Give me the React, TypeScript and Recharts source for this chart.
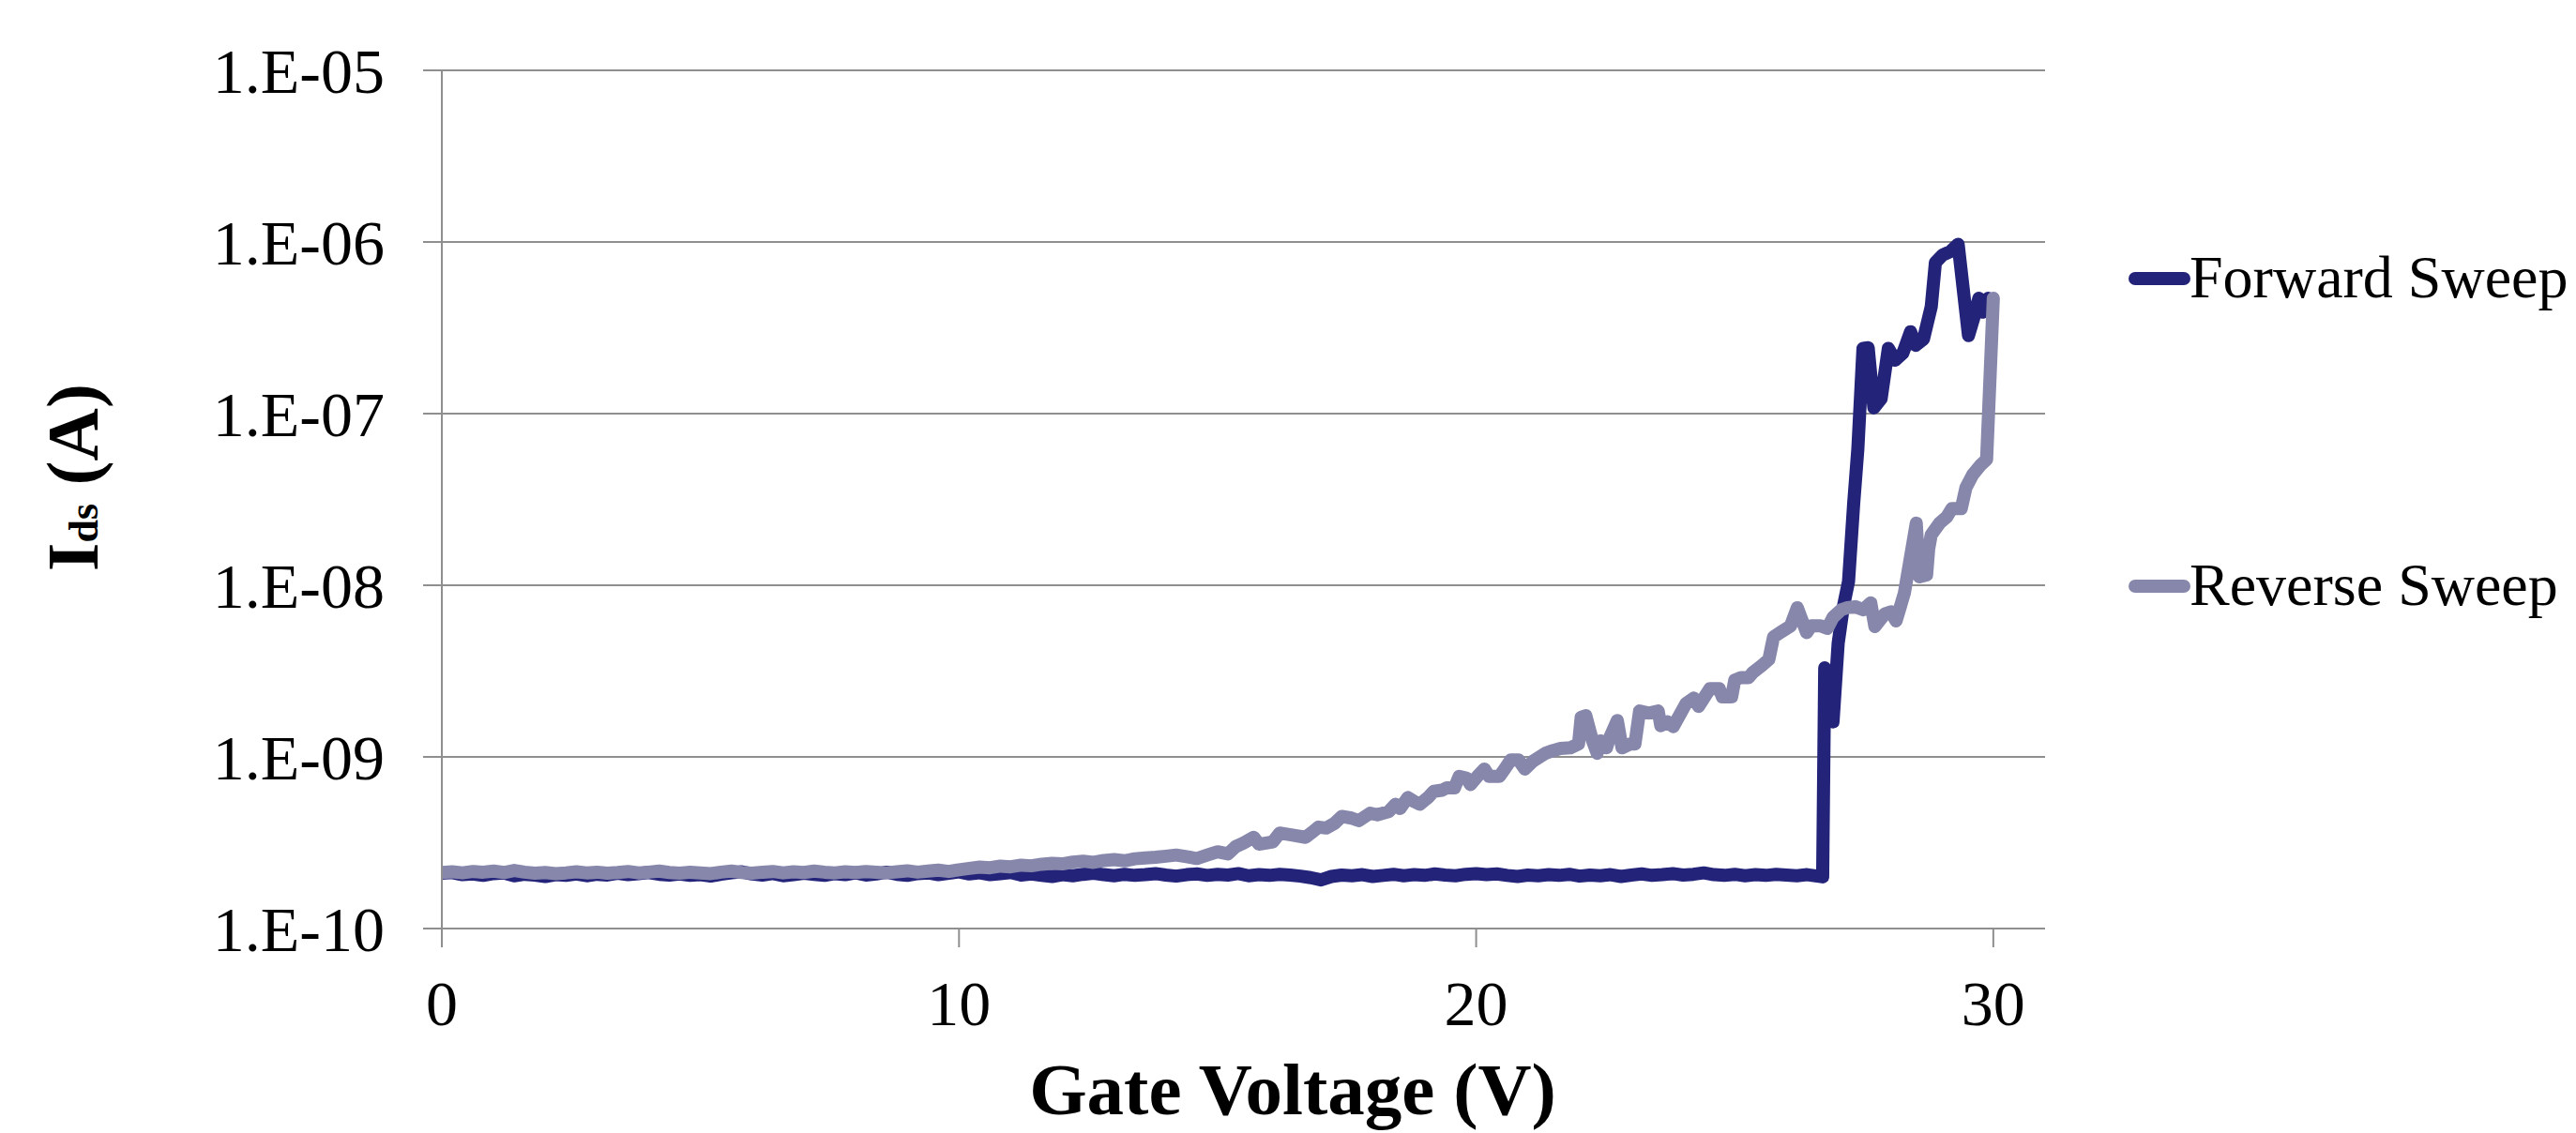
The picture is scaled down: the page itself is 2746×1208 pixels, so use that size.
import { LineChart, Line, XAxis, YAxis, CartesianGrid, Legend } from "recharts";

const W = 2746;
const H = 1208;
const FONT = '"Liberation Serif", "Times New Roman", Times, serif';
const FORWARD = "#23237a";
const REVERSE = "#8787ac";
const AXIS = "#8f8f8f";

const xTicks = [0, 10, 20, 30];
const yTicks = [1e-10, 1e-9, 1e-8, 1e-7, 1e-6, 1e-5];
const yTickLabels = ["1.E-10", "1.E-09", "1.E-08", "1.E-07", "1.E-06", "1.E-05"];

// forward sweep, gate voltage (V) and drain current (nA)
const forwardV = [
  0, 0.2, 0.4, 0.6, 0.8, 1, 1.2, 1.4, 1.6, 1.8,
  2, 2.2, 2.4, 2.6, 2.8, 3, 3.2, 3.4, 3.6, 3.8,
  4, 4.2, 4.4, 4.6, 4.8, 5, 5.2, 5.4, 5.6, 5.8,
  6, 6.2, 6.4, 6.6, 6.8, 7, 7.2, 7.4, 7.6, 7.8,
  8, 8.2, 8.4, 8.6, 8.8, 9, 9.2, 9.4, 9.6, 9.8,
  10, 10.2, 10.4, 10.6, 10.8, 11, 11.2, 11.4, 11.6, 11.8,
  12, 12.2, 12.4, 12.6, 12.8, 13, 13.2, 13.4, 13.6, 13.8,
  14, 14.2, 14.4, 14.6, 14.8, 15, 15.2, 15.4, 15.6, 15.8,
  16, 16.2, 16.4, 16.6, 16.8, 17, 17.2, 17.4, 17.6, 17.8,
  18, 18.2, 18.4, 18.6, 18.8, 19, 19.2, 19.4, 19.6, 19.8,
  20, 20.2, 20.4, 20.6, 20.8, 21, 21.2, 21.4, 21.6, 21.8,
  22, 22.2, 22.4, 22.6, 22.8, 23, 23.2, 23.4, 23.6, 23.8,
  24, 24.2, 24.4, 24.6, 24.8, 25, 25.2, 25.4, 25.6, 25.8,
  26, 26.2, 26.4, 26.6,
  26.7, 26.74, 26.9, 27.0, 27.1, 27.2, 27.3, 27.38, 27.48, 27.58,
  27.69, 27.83, 27.97, 28.1, 28.25, 28.4, 28.5, 28.65, 28.8, 28.88,
  29.02, 29.17, 29.32, 29.52, 29.62, 29.72, 29.8, 29.9,
];
const forwardNA = [
  0.210, 0.212, 0.206, 0.208, 0.204, 0.209, 0.211, 0.203, 0.207, 0.205,
  0.201, 0.206, 0.204, 0.208, 0.203, 0.207, 0.205, 0.210, 0.206, 0.209,
  0.212, 0.207, 0.205, 0.208, 0.204, 0.206, 0.202, 0.207, 0.211, 0.214,
  0.208, 0.205, 0.209, 0.203, 0.206, 0.210, 0.207, 0.204, 0.209, 0.206,
  0.211, 0.205, 0.208, 0.213, 0.207, 0.204, 0.209, 0.211, 0.206, 0.210,
  0.214, 0.208, 0.211, 0.206, 0.209, 0.212, 0.205, 0.208, 0.204, 0.201,
  0.206, 0.203, 0.207, 0.210, 0.206, 0.203, 0.207, 0.204, 0.206, 0.209,
  0.205, 0.202, 0.206, 0.208, 0.204, 0.207, 0.205, 0.209, 0.203, 0.206,
  0.204, 0.207, 0.205, 0.202, 0.198, 0.192, 0.201, 0.205, 0.203, 0.206,
  0.201, 0.204, 0.207, 0.203, 0.206, 0.204, 0.208, 0.205, 0.203, 0.207,
  0.209, 0.206, 0.208, 0.204, 0.201, 0.205, 0.203, 0.206, 0.204, 0.207,
  0.202, 0.205, 0.203, 0.206, 0.201, 0.205, 0.208, 0.204, 0.206, 0.209,
  0.205, 0.207, 0.211, 0.206, 0.204, 0.207, 0.203, 0.206, 0.204, 0.207,
  0.205, 0.203, 0.206, 0.202,
  0.200, 3.3, 1.6, 4.6, 7.5, 10.5, 30, 62, 240, 242,
  108, 122, 240, 205, 225, 300, 250, 272, 420, 760,
  840, 880, 970, 285, 360, 470, 390, 470,
];

// reverse sweep, gate voltage (V) and drain current (nA)
const reverseV = [
  0, 0.2, 0.4, 0.6, 0.8, 1, 1.2, 1.4, 1.6, 1.8,
  2, 2.2, 2.4, 2.6, 2.8, 3, 3.2, 3.4, 3.6, 3.8,
  4, 4.2, 4.4, 4.6, 4.8, 5, 5.2, 5.4, 5.6, 5.8,
  6, 6.2, 6.4, 6.6, 6.8, 7, 7.2, 7.4, 7.6, 7.8,
  8, 8.2, 8.4, 8.6, 8.8, 9, 9.2, 9.4, 9.6, 9.8,
  10, 10.2, 10.4, 10.6, 10.8, 11, 11.2, 11.4, 11.6, 11.8,
  12, 12.2, 12.4, 12.6, 12.8, 13, 13.2, 13.4, 13.6, 13.8,
  14, 14.2, 14.4, 14.6, 14.8, 15,
  15.2, 15.35, 15.5, 15.7, 15.8, 16.07, 16.2, 16.45, 16.7, 16.86,
  16.95, 17.1, 17.26, 17.4, 17.59, 17.73, 17.95, 18.09, 18.31, 18.44,
  18.53, 18.68, 18.8, 18.91, 19.07, 19.18, 19.34, 19.43, 19.58, 19.67,
  19.82, 19.89, 20.04, 20.16, 20.25, 20.45, 20.55, 20.67, 20.82, 20.94,
  21.09, 21.34, 21.49, 21.63, 21.82, 21.98, 22.03, 22.12, 22.25, 22.34,
  22.4, 22.52, 22.58, 22.73, 22.82, 22.98, 23.07, 23.16, 23.34, 23.52,
  23.57, 23.7, 23.81, 24.06, 24.21, 24.3, 24.52, 24.7, 24.76, 24.94,
  25.0, 25.12, 25.27, 25.35, 25.52, 25.66, 25.75, 25.88, 26.08, 26.21,
  26.39, 26.48, 26.66, 26.79, 26.9, 27.06, 27.18, 27.33, 27.48, 27.63,
  27.71, 27.9, 28.02, 28.12, 28.28, 28.51, 28.57, 28.71, 28.75, 28.8,
  28.96, 29.1, 29.2, 29.38, 29.47, 29.6, 29.75, 29.87, 30.0,
];
const reverseNA = [
  0.212, 0.214, 0.211, 0.215, 0.213, 0.216, 0.212, 0.218, 0.213, 0.210,
  0.212, 0.209, 0.211, 0.214, 0.211, 0.213, 0.210, 0.212, 0.215, 0.211,
  0.213, 0.216, 0.212, 0.210, 0.213, 0.211, 0.209, 0.213, 0.216, 0.212,
  0.210, 0.213, 0.215, 0.211, 0.214, 0.212, 0.216, 0.213, 0.211, 0.214,
  0.212, 0.215, 0.213, 0.211, 0.214, 0.217, 0.213, 0.216, 0.219, 0.215,
  0.220, 0.224, 0.228, 0.226, 0.231, 0.229, 0.234, 0.232, 0.237, 0.240,
  0.238, 0.244, 0.247, 0.243, 0.249, 0.252, 0.248, 0.255, 0.258, 0.260,
  0.264, 0.268, 0.262, 0.256, 0.268, 0.280,
  0.272, 0.300, 0.315, 0.340, 0.310, 0.320, 0.360, 0.350, 0.340, 0.370,
  0.390, 0.385, 0.410, 0.450, 0.440, 0.425, 0.470, 0.460, 0.480, 0.530,
  0.500, 0.580, 0.550, 0.530, 0.580, 0.630, 0.640, 0.660, 0.660, 0.770,
  0.750, 0.690, 0.780, 0.850, 0.770, 0.770, 0.850, 0.960, 0.960, 0.850,
  0.940, 1.05, 1.09, 1.12, 1.13, 1.19, 1.70, 1.74, 1.24, 1.05,
  1.24, 1.13, 1.29, 1.63, 1.13, 1.19, 1.19, 1.85, 1.80, 1.85,
  1.52, 1.60, 1.50, 2.05, 2.20, 1.97, 2.50, 2.50, 2.24, 2.24,
  2.80, 2.90, 2.90, 3.10, 3.40, 3.70, 5.00, 5.30, 5.80, 7.40,
  5.30, 5.80, 5.80, 5.60, 6.50, 7.20, 7.40, 7.50, 7.20, 7.90,
  5.75, 6.80, 7.00, 6.20, 9.00, 23.0, 11.2, 11.5, 16.3, 19.7,
  23.0, 25.0, 28.0, 28.0, 37.0, 44.0, 50.0, 54.0, 470,
];

const toPoints = (vs: number[], na: number[]) => vs.map((v, i) => ({ v, ids: na[i] * 1e-9 }));
const forwardData = toPoints(forwardV, forwardNA);
const reverseData = toPoints(reverseV, reverseNA);

const formatY = (val: number) => {
  const i = yTicks.findIndex((t) => Math.abs(Math.log10(t) - Math.log10(val)) < 1e-6);
  return i >= 0 ? yTickLabels[i] : "";
};

const XTitle = () => (
  <text x={1378} y={1188} textAnchor="middle" fontFamily={FONT} fontWeight="bold" fontSize={79} fill="#000">
    Gate Voltage (V)
  </text>
);

const YTitle = () => (
  <text
    x={104}
    y={509}
    transform="rotate(-90 104 509)"
    textAnchor="middle"
    fontFamily={FONT}
    fontWeight="bold"
    fill="#000"
  >
    <tspan fontSize={78}>I</tspan>
    <tspan fontSize={44}>ds</tspan>
    <tspan fontSize={78}>{" (A)"}</tspan>
  </text>
);

const LegendBox = (props: any) => {
  const items = props.payload || [];
  return (
    <svg width={484} height={420} style={{ display: "block" }}>
      {items.map((item: any, i: number) => (
        <g key={item.value}>
          <line
            x1={14}
            x2={66}
            y1={42 + i * 328}
            y2={42 + i * 328}
            stroke={item.color}
            strokeWidth={14}
            strokeLinecap="round"
          />
          <text x={72} y={62 + i * 328} fontFamily={FONT} fontSize={64} fill="#000">
            {item.value}
          </text>
        </g>
      ))}
    </svg>
  );
};

export default function App() {
  return (
    <div style={{ position: "absolute", left: 0, top: 0, width: W, height: H, background: "#fff" }}>
      <LineChart width={W} height={H} margin={{ top: 75, right: 566, bottom: 0, left: 0 }}>
        <CartesianGrid vertical={false} stroke={AXIS} strokeWidth={2} />
        <XAxis
          type="number"
          dataKey="v"
          domain={[0, 31]}
          ticks={xTicks}
          allowDataOverflow
          height={218}
          tickSize={20}
          tickMargin={35}
          axisLine={{ stroke: AXIS, strokeWidth: 2 }}
          tickLine={{ stroke: AXIS, strokeWidth: 2 }}
          tick={{ fill: "#000", fontSize: 68, fontFamily: FONT }}
          label={<XTitle />}
        />
        <YAxis
          type="number"
          dataKey="ids"
          scale="log"
          domain={[1e-10, 1e-5]}
          ticks={yTicks}
          allowDataOverflow
          width={471}
          tickSize={20}
          tickMargin={41}
          tickFormatter={formatY}
          axisLine={{ stroke: AXIS, strokeWidth: 2 }}
          tickLine={{ stroke: AXIS, strokeWidth: 2 }}
          tick={{ fill: "#000", fontSize: 68, fontFamily: FONT }}
          label={<YTitle />}
        />
        <Legend
          layout="horizontal"
          verticalAlign="middle"
          align="center"
          content={<LegendBox />}
          wrapperStyle={{ left: 2262, top: 255, width: 484, height: 420 }}
        />
        <Line
          name="Forward Sweep"
          data={forwardData}
          dataKey="ids"
          type="linear"
          stroke={FORWARD}
          strokeWidth={14}
          strokeLinejoin="round"
          strokeLinecap="round"
          dot={false}
          activeDot={false}
          isAnimationActive={false}
        />
        <Line
          name="Reverse Sweep"
          data={reverseData}
          dataKey="ids"
          type="linear"
          stroke={REVERSE}
          strokeWidth={14}
          strokeLinejoin="round"
          strokeLinecap="round"
          dot={false}
          activeDot={false}
          isAnimationActive={false}
        />
      </LineChart>
    </div>
  );
}
